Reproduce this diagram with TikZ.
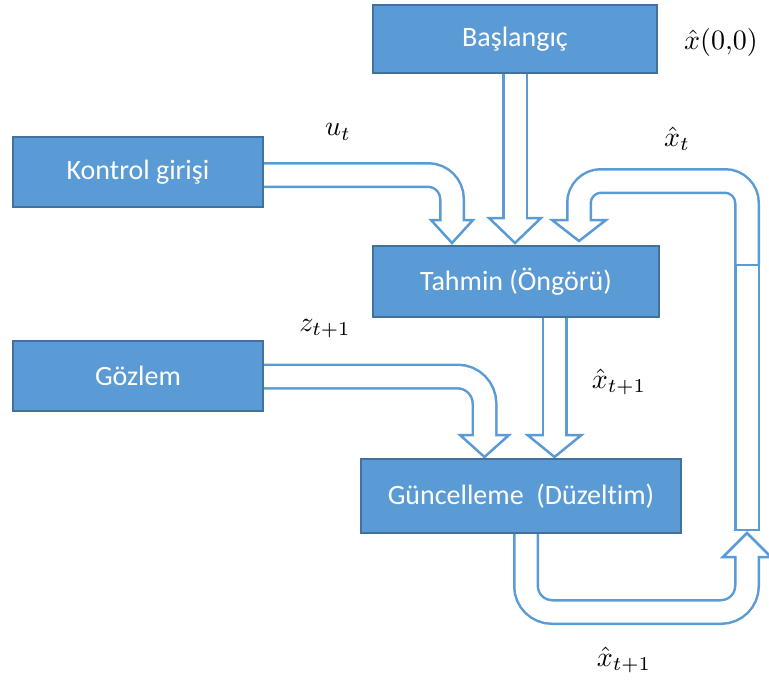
\documentclass[tikz,border=0pt]{standalone}
\usepackage{fontspec}
\setmainfont{Carlito}[Ligatures=NoCommon]
\usetikzlibrary{calc,backgrounds}
\definecolor{boxfill}{HTML}{5B9BD5}
\definecolor{boxline}{HTML}{41719C}
\definecolor{arrline}{HTML}{5B9BD5}

% hollow arrow heads: #1 base centre, #2 half width, #3 length
\newcommand{\headdown}[3]{\filldraw[headtip] ($(#1)+(-#2,0)$) -- ($(#1)+(0,#3)$) -- ($(#1)+(#2,0)$) -- cycle;}
\newcommand{\headup}[3]{\filldraw[headtip] ($(#1)+(-#2,0)$) -- ($(#1)+(0,-#3)$) -- ($(#1)+(#2,0)$) -- cycle;}

\begin{document}
\begin{tikzpicture}[x=1pt,y=-1pt,
  block/.style={draw=boxline, fill=boxfill, line width=2pt, text=white,
    font=\fontsize{28}{33}\selectfont, inner sep=0pt, outer sep=0pt},
  shaftout/.style={draw=arrline, line width=26pt, line cap=butt},
  shaftin/.style={draw=white, line width=21pt, line cap=butt},
  headtip/.style={draw=arrline, fill=white, line width=2.5pt, line join=miter},
  barbox/.style={draw=arrline, fill=white, line width=2.5pt},
  lbl/.style={scale=2.8, inner sep=0pt}]
\useasboundingbox (0,0) rectangle (769,680);

% blocks
\node[block, minimum width=284pt, minimum height=68pt] (start) at (515,39) {Başlangıç};
\node[block, minimum width=250pt, minimum height=70pt] (ctrl) at (138,172) {Kontrol girişi};
\node[block, minimum width=286pt, minimum height=71pt] (pred) at (516,281.5) {Tahmin (Öngörü)};
\node[block, minimum width=250pt, minimum height=70pt] (obs) at (138,376) {Gözlem};
\node[block, minimum width=320pt, minimum height=74pt] (upd) at (521,496) {Güncelleme\ \ (Düzeltim)};

% math labels
\node[lbl] (lx0) at (721,42) {$\hat{x}(0{,}0)$};
\node[lbl] (lu) at (338,132) {$u_t$};
\node[lbl] (lxt) at (677,139) {$\hat{x}_t$};
\node[lbl] (lz) at (325,329) {$z_{t+1}$};
\node[lbl] (lxp) at (619,382) {$\hat{x}_{t+1}$};
\node[lbl] (lxu) at (624,660) {$\hat{x}_{t+1}$};

\begin{pgfonlayer}{background}
% start -> prediction
\coordinate (b1) at ($(start.south)+(0,145)$);
\draw[shaftout] (start.south) -- (b1);
\headdown{b1}{26}{25}
\draw[shaftin] (start.south) -- ($(b1)+(0,4)$);

% control input -> prediction
\coordinate (c2a) at ($(ctrl.east)+(0,3)$);
\coordinate (c2b) at (452,175);
\coordinate (b2) at (452,220);
\draw[shaftout, rounded corners=24pt] (c2a) -- (c2b) -- (b2);
\headdown{b2}{21}{23}
\draw[shaftin, rounded corners=24pt] (c2a) -- (c2b) -- ($(b2)+(0,4)$);

% prediction -> update
\coordinate (c5a) at ($(pred.south)+(38.5,0)$);
\coordinate (b5) at (554.5,435);
\draw[shaftout] (c5a) -- (b5);
\headdown{b5}{27}{22}
\draw[shaftin] (c5a) -- ($(b5)+(0,4)$);

% observation -> update
\coordinate (c6a) at ($(obs.east)+(0,0.5)$);
\coordinate (c6b) at (484.5,376.5);
\coordinate (b6) at (484.5,435);
\draw[shaftout, rounded corners=27pt] (c6a) -- (c6b) -- (b6);
\headdown{b6}{24.5}{22}
\draw[shaftin, rounded corners=27pt] (c6a) -- (c6b) -- ($(b6)+(0,4)$);

% update -> feedback bar
\coordinate (c4a) at ($(upd.south)+(5,0)$);
\coordinate (c4b) at (526,612);
\coordinate (c4c) at (747,612);
\coordinate (b4) at (747,557);
\draw[shaftout, rounded corners=26pt] (c4a) -- (c4b) -- (c4c) -- (b4);
\headup{b4}{24}{24}
\draw[shaftin, rounded corners=26pt] (c4a) -- (c4b) -- (c4c) -- ($(b4)+(0,-4)$);

% feedback -> prediction
\coordinate (c3a) at (747,265);
\coordinate (c3b) at (747,181);
\coordinate (c3c) at (579,181);
\coordinate (b3) at (579,220);
\draw[shaftout, rounded corners=22pt] (c3a) -- (c3b) -- (c3c) -- (b3);
\headdown{b3}{27}{21}
\draw[shaftin, rounded corners=22pt] (c3a) -- (c3b) -- (c3c) -- ($(b3)+(0,4)$);

% feedback bar
\node[barbox, inner sep=0pt, outer sep=0pt, minimum width=23.5pt, minimum height=265pt] (bar) at (747,397.5) {};
\end{pgfonlayer}
\end{tikzpicture}
\end{document}
